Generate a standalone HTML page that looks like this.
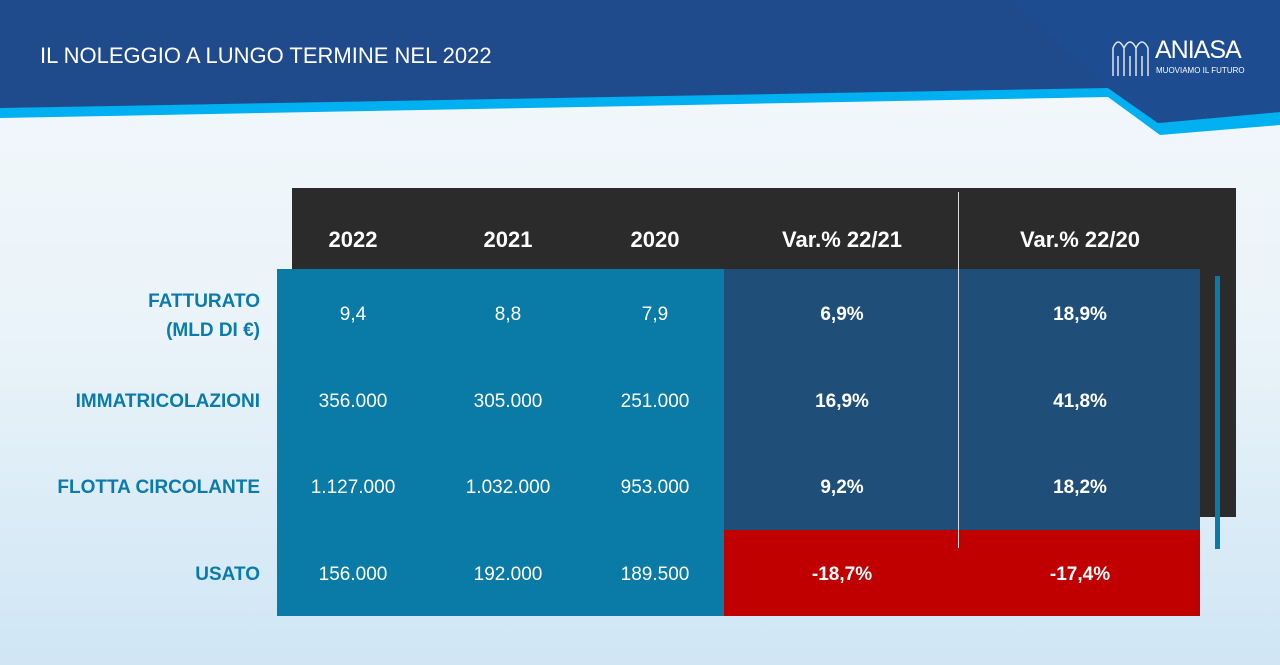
<!DOCTYPE html>
<html><head><meta charset="utf-8"><style>
body{margin:0;width:1280px;height:665px;overflow:hidden;font-family:"Liberation Sans",sans-serif;background:linear-gradient(180deg,#f4f9fc 0%,#eaf3f9 50%,#cfe6f5 100%);position:relative}
.a{position:absolute}
.t{position:absolute;text-align:center;color:#fff;font-size:19px}
.l{position:absolute;right:1020px;text-align:right;color:#0a7bab;font-weight:bold;font-size:19px}
</style></head><body>
<svg class="a" style="left:0;top:0" width="1280" height="140">
<polygon points="0,0 1280,0 1280,125 1160,135 1108,97 0,118" fill="#00b0f0"/>
<polygon points="0,0 1280,0 1280,112 1158,123 1108,88 0,108" fill="#1f4a8c"/>
<polygon points="1010,0 1280,0 1280,112 1158,123 1108,88" fill="#1e4c90"/>
</svg>
<div class="a" style="left:40px;top:43px;color:#fff;font-size:22px">IL NOLEGGIO A LUNGO TERMINE NEL 2022</div>
<svg class="a" style="left:1110px;top:34px" width="44" height="44" fill="none" stroke="#fff" stroke-width="1.5" opacity=".85">
<path d="M3,42 V14 Q8,2 14,14 V42 M14,14 Q20,2 26,14 V42 M26,14 Q32,2 38,14 V42 M8,42 V22 M20,42 V22 M32,42 V22"/>
</svg>
<div class="a" style="left:1155px;top:36px;color:#fff;font-size:25px;letter-spacing:-1px">ANIASA</div>
<div class="a" style="left:1156px;top:66px;color:#fff;font-size:8px">MUOVIAMO IL FUTURO</div>
<div class="a" style="left:292px;top:188px;width:944px;height:329px;background:#2b2b2c"></div>
<div class="a" style="left:277px;top:269px;width:447px;height:347px;background:#0a7aa6"></div>
<div class="a" style="left:724px;top:269px;width:476px;height:261px;background:#1f4e79"></div>
<div class="a" style="left:724px;top:530px;width:476px;height:86px;background:#c00000"></div>
<div class="a" style="left:958px;top:192px;width:1px;height:356px;background:#ddd"></div>
<div class="a" style="left:1215px;top:276px;width:5px;height:273px;background:#0a7aa6"></div>
<div class="t" style="left:293px;width:120px;top:227px;font-weight:bold;font-size:22px">2022</div>
<div class="t" style="left:448px;width:120px;top:227px;font-weight:bold;font-size:22px">2021</div>
<div class="t" style="left:595px;width:120px;top:227px;font-weight:bold;font-size:22px">2020</div>
<div class="t" style="left:742px;width:200px;top:227px;font-weight:bold;font-size:22px">Var.% 22/21</div>
<div class="t" style="left:980px;width:200px;top:227px;font-weight:bold;font-size:22px">Var.% 22/20</div>
<div class="l" style="top:287px;line-height:29px">FATTURATO<br>(MLD DI €)</div>
<div class="l" style="top:391px">IMMATRICOLAZIONI</div>
<div class="l" style="top:477px">FLOTTA CIRCOLANTE</div>
<div class="l" style="top:564px">USATO</div>
<div class="t" style="left:283px;width:140px;top:304px">9,4</div>
<div class="t" style="left:438px;width:140px;top:304px">8,8</div>
<div class="t" style="left:585px;width:140px;top:304px">7,9</div>
<div class="t" style="left:742px;width:200px;top:304px;font-weight:bold">6,9%</div>
<div class="t" style="left:980px;width:200px;top:304px;font-weight:bold">18,9%</div>
<div class="t" style="left:283px;width:140px;top:391px">356.000</div>
<div class="t" style="left:438px;width:140px;top:391px">305.000</div>
<div class="t" style="left:585px;width:140px;top:391px">251.000</div>
<div class="t" style="left:742px;width:200px;top:391px;font-weight:bold">16,9%</div>
<div class="t" style="left:980px;width:200px;top:391px;font-weight:bold">41,8%</div>
<div class="t" style="left:283px;width:140px;top:477px">1.127.000</div>
<div class="t" style="left:438px;width:140px;top:477px">1.032.000</div>
<div class="t" style="left:585px;width:140px;top:477px">953.000</div>
<div class="t" style="left:742px;width:200px;top:477px;font-weight:bold">9,2%</div>
<div class="t" style="left:980px;width:200px;top:477px;font-weight:bold">18,2%</div>
<div class="t" style="left:283px;width:140px;top:564px">156.000</div>
<div class="t" style="left:438px;width:140px;top:564px">192.000</div>
<div class="t" style="left:585px;width:140px;top:564px">189.500</div>
<div class="t" style="left:742px;width:200px;top:564px;font-weight:bold">-18,7%</div>
<div class="t" style="left:980px;width:200px;top:564px;font-weight:bold">-17,4%</div>
</body></html>
